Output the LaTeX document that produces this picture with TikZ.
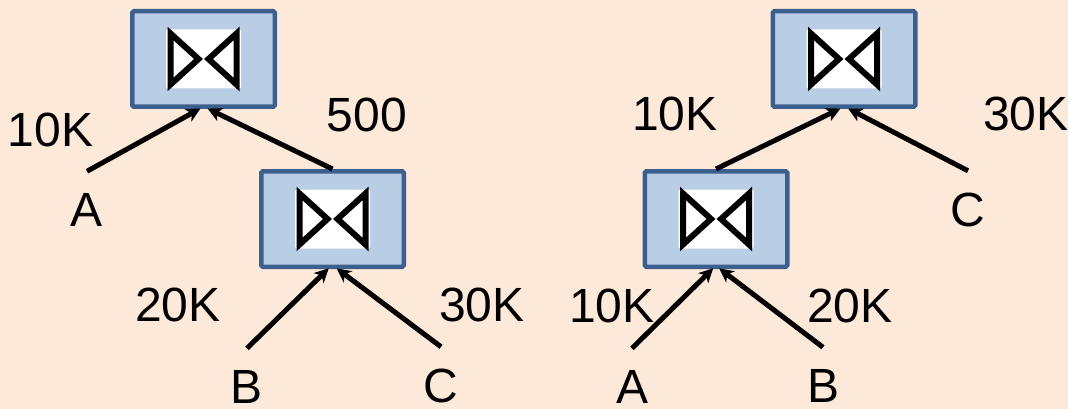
\documentclass[tikz,border=0pt]{standalone}
\usepackage{fontspec}
\setmainfont{Liberation Sans}
\usetikzlibrary{arrows.meta}
\definecolor{bgpeach}{HTML}{FDE9D9}
\definecolor{boxfill}{HTML}{B9CDE5}
\definecolor{boxline}{HTML}{3C5F8E}
\begin{document}
\begin{tikzpicture}[x=1pt,y=-1pt,
  lbl/.style={font=\fontsize{48}{50}\selectfont, inner sep=0pt, anchor=center},
  leaf/.style={font=\fontsize{48}{50}\selectfont, inner sep=0pt, anchor=center},
  joinbox/.style={draw=boxline, fill=boxfill, line width=4.5pt, rounded corners=1.5pt,
    minimum width=142.5pt, minimum height=95.5pt, inner sep=0pt,
    path picture={
      \begin{scope}[shift={(path picture bounding box.center)}]
        \fill[white] (-37.5,-29.5) rectangle (37.5,29.5);
        \draw[black, line width=6pt, line join=miter, sharp corners]
          (-33,-25.5) -- (-33,25.5) -- (-5,0) -- cycle
          (33,-25.5) -- (33,25.5) -- (5,0) -- cycle;
      \end{scope}
    }},
  arr/.style={line width=5pt, -{Stealth[length=14pt,width=14pt,inset=4pt]}, shorten >=-1pt}
]
\fill[bgpeach] (0,0) rectangle (1068,409);
\useasboundingbox (0,0) rectangle (1068,409);

% left tree
\node[joinbox] (j1) at (203.5,59) {};
\node[joinbox] (j2) at (332.5,219) {};
\node[leaf] (la) at (87,210) {A};
\node[leaf] (lb) at (247,387) {B};
\node[leaf] (lc) at (441,386) {C};
\node[lbl] (l10k) at (50.5,130) {10K};
\node[lbl] (l500) at (367,115) {500};
\node[lbl] (l20k) at (178,305) {20K};
\node[lbl] (l30k) at (482,305) {30K};

\draw[arr] ([yshift=22pt]la.north) -- ([xshift=-4pt]j1.south);
\draw[arr] (j2.north) -- ([xshift=5pt]j1.south);
\draw[arr] ([yshift=22pt]lb.north) -- ([xshift=-4.5pt]j2.south);
\draw[arr] ([yshift=22pt]lc.north) -- ([xshift=5pt]j2.south);

% right tree
\node[joinbox] (j3) at (844,59) {};
\node[joinbox] (j4) at (716,219) {};
\node[leaf] (rc) at (968,210) {C};
\node[leaf] (ra) at (632,387) {A};
\node[leaf] (rb) at (823,386) {B};
\node[lbl] (r10ka) at (675,114) {10K};
\node[lbl] (r30k) at (1026,114) {30K};
\node[lbl] (r10kb) at (612,306) {10K};
\node[lbl] (r20k) at (850,306) {20K};

\draw[arr] (j4.north) -- ([xshift=-4.5pt]j3.south);
\draw[arr] ([yshift=22pt]rc.north) -- ([xshift=5pt]j3.south);
\draw[arr] ([yshift=22pt]ra.north) -- ([xshift=-3.5pt]j4.south);
\draw[arr] ([yshift=22pt]rb.north) -- ([xshift=4pt]j4.south);
\end{tikzpicture}
\end{document}
